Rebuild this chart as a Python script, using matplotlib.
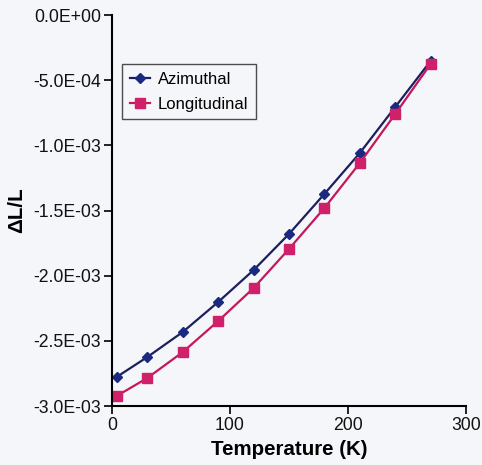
import matplotlib
matplotlib.use("Agg")
import matplotlib.pyplot as plt
from matplotlib.ticker import FuncFormatter

plt.rcParams['font.family'] = ['Liberation Sans', 'DejaVu Sans']

temperature = [4, 30, 60, 90, 120, 150, 180, 210, 240, 270]
azimuthal = [-2.777e-3, -2.624e-3, -2.432e-3, -2.202e-3, -1.957e-3,
             -1.680e-3, -1.373e-3, -1.059e-3, -0.706e-3, -0.353e-3]
longitudinal = [-2.923e-3, -2.785e-3, -2.586e-3, -2.348e-3, -2.095e-3,
                -1.795e-3, -1.481e-3, -1.136e-3, -0.760e-3, -0.376e-3]


def sci(v, pos):
    s = "%.1E" % v
    if s.startswith("-0.0"):
        s = s[1:]
    return s


fig = plt.figure(figsize=(4.82, 4.65), dpi=100)
fig.patch.set_facecolor('#f5f6fa')
ax = fig.add_axes([112/482, 1-406/465, 354/482, 391/465])
ax.set_facecolor('#f5f6fa')

ax.plot(temperature, azimuthal, color='#1c1f5e', marker='D', markersize=5,
        markerfacecolor='#1a2a80', markeredgecolor='#1a2a80', lw=1.6, label='Azimuthal')
ax.plot(temperature, longitudinal, color='#c4185a', marker='s', markersize=6.5,
        markerfacecolor='#d0206a', markeredgecolor='#d0206a', lw=1.6, label='Longitudinal')

ax.set_xlim(0, 300)
ax.set_ylim(-3.0e-3, 0)
ax.set_xticks([0, 100, 200, 300])
ax.set_yticks([-3e-3, -2.5e-3, -2e-3, -1.5e-3, -1e-3, -5e-4, 0])
ax.yaxis.set_major_formatter(FuncFormatter(sci))
ax.tick_params(direction='out', length=6, width=1.3, labelsize=12.7, colors='#111111', pad=2)
for s in ['top', 'right']:
    ax.spines[s].set_visible(False)
for s in ['left', 'bottom']:
    ax.spines[s].set_linewidth(1.5)

ax.set_xlabel('Temperature (K)', fontsize=14.8, fontweight='bold', labelpad=4)
ax.set_ylabel('ΔL/L', fontsize=14.8, fontweight='bold')
ax.yaxis.set_label_coords(-0.242, 0.5)

leg = ax.legend(loc='upper left', bbox_to_anchor=(10/354, 342/391), borderaxespad=0,
                fontsize=12, frameon=True, fancybox=False, edgecolor='#222222',
                handlelength=1.2, handletextpad=0.5, borderpad=0.45, labelspacing=0.6)
leg.get_frame().set_linewidth(1.0)
leg.get_frame().set_facecolor('#f5f6fa')

fig.savefig('out.png', dpi=100, facecolor=fig.get_facecolor())
